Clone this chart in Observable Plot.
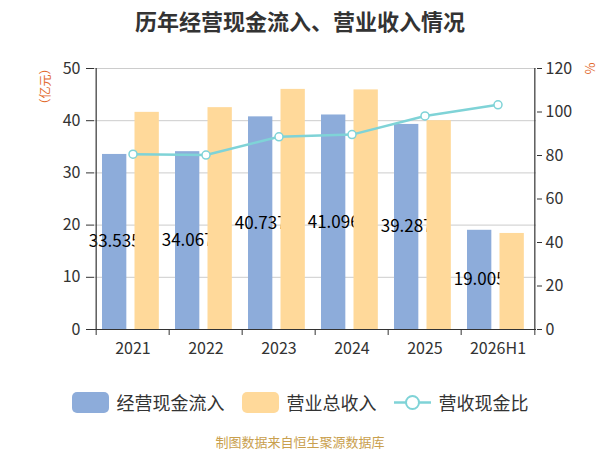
<!DOCTYPE html>
<html lang="zh">
<head>
<meta charset="UTF-8">
<title>历年经营现金流入、营业收入情况</title>
<script src="https://cdn.jsdelivr.net/npm/d3@7"></script>
<script src="https://cdn.jsdelivr.net/npm/@observablehq/plot@0.6"></script>
<style>
  body { margin: 0; background: #fff; font-family: "Noto Sans CJK SC", sans-serif; }
  #wrap { position: relative; width: 600px; height: 450px; }
  #title { position: absolute; top: 0; left: 0; width: 600px; height: 40px; line-height: 40px;
           text-align: center; font-size: 22px; font-weight: bold; color: #333; }
  #chart { position: absolute; top: 44px; left: 0; }
  #legend { position: absolute; top: 390px; left: 0; width: 600px; height: 24px;
            display: flex; justify-content: center; align-items: center; gap: 17px; }
  .item { display: flex; align-items: center; font-size: 18px; color: #333; }
  .sw { width: 37px; height: 21px; border-radius: 5px; margin-right: 8px; }
  .item svg { margin-right: 8px; }
  #source { position: absolute; top: 432px; left: 0; width: 600px; line-height: 20px;
            text-align: center; font-size: 13px; color: #c9a04e; }
</style>
</head>
<body>
<div id="wrap">
  <div id="title">历年经营现金流入、营业收入情况</div>
  <div id="chart"></div>
  <div id="legend"></div>
  <div id="source">制图数据来自恒生聚源数据库</div>
</div>
<script>
const years = ["2021", "2022", "2023", "2024", "2025", "2026H1"];
const cashIn = [33.535, 34.067, 40.737, 41.096, 39.287, 19.005];   // 经营现金流入 (亿元)
const revenue = [41.6, 42.5, 46.0, 45.9, 40.0, 18.4];             // 营业总收入 (亿元)
const ratio = [80.6, 80.2, 88.6, 89.6, 98.2, 103.3];              // 营收现金比 (%)
const leftTicks = [0, 10, 20, 30, 40, 50];
const rightTicks = [0, 20, 40, 60, 80, 100, 120];

const blue = "#8dacda", orange = "#ffd99a", teal = "#7fd3d7";

const W = 600, H = 321, ML = 94, MR = 64, MT = 24, MB = 36;
const bw = (W - ML - MR) / years.length;
const k = 50 / 120; // right axis -> left axis units

const rows = years.map((year, i) => ({year, cash: cashIn[i], rev: revenue[i], ratio: ratio[i]}));

const chart = Plot.plot({
  width: W,
  height: H,
  marginLeft: ML,
  marginRight: MR,
  marginTop: MT,
  marginBottom: MB,
  style: {fontFamily: "'Noto Sans CJK SC', sans-serif", fontSize: "16px", color: "#333", background: "white", overflow: "visible"},
  x: {type: "band", domain: years, padding: 0},
  y: {domain: [0, 50]},
  marks: [
    Plot.gridY(leftTicks.slice(1), {stroke: "#cccccc", strokeOpacity: 1}),
    Plot.barY(rows, {x: "year", y: "cash", fill: blue, insetLeft: 6, insetRight: bw - 31}),
    Plot.text(rows, {x: "year", y: d => d.cash / 2, text: d => d.cash.toFixed(3), dx: 18.5 - bw / 2, fill: "#000", fontSize: 17}),
    Plot.barY(rows, {x: "year", y: "rev", fill: orange, insetLeft: 38.5, insetRight: bw - 63.5}),
    Plot.line(rows, {x: "year", y: d => d.ratio * k, stroke: teal, strokeWidth: 2.5}),
    Plot.dot(rows, {x: "year", y: d => d.ratio * k, r: 4, fill: "white", stroke: teal, strokeWidth: 1.5}),
    // axis lines
    Plot.ruleY([0], {stroke: "#333", strokeWidth: 1.2}),
    Plot.ruleX([years[0]], {dx: -bw / 2, stroke: "#333", strokeWidth: 1.2}),
    Plot.ruleX([years[years.length - 1]], {dx: bw / 2, stroke: "#333", strokeWidth: 1.2}),
    // x axis: labels centred, ticks on band edges
    Plot.axisX({tickSize: 0, tickPadding: 13, label: null, fill: "#333"}),
    Plot.axisX(years, {tickSize: 6, tickFormat: () => "", dx: -bw / 2, label: null, stroke: "#333"}),
    Plot.axisX([years[years.length - 1]], {tickSize: 6, tickFormat: () => "", dx: bw / 2, label: null, stroke: "#333"}),
    // y axes
    Plot.axisY(leftTicks, {anchor: "left", tickSize: 8, tickPadding: 6, label: null, fill: "#333", stroke: "#333"}),
    Plot.axisY(rightTicks, {anchor: "right", y: d => d * k, tickFormat: d => d, tickSize: 5, tickPadding: 4, label: null, fill: "#333", stroke: "#333"}),
    Plot.text(["（亿元）"], {frameAnchor: "top-left", textAnchor: "middle", lineAnchor: "middle", dx: -48, dy: 18, rotate: -90, fill: "#e2692c", fontSize: 12}),
    Plot.text(["%"], {frameAnchor: "top-right", textAnchor: "middle", lineAnchor: "middle", dx: 54, dy: 0, rotate: -90, fill: "#e2692c", fontSize: 13})
  ]
});
document.getElementById("chart").append(chart);

// legend
const legend = document.getElementById("legend");
[["经营现金流入", blue], ["营业总收入", orange]].forEach(([name, c]) => {
  const it = document.createElement("div");
  it.className = "item";
  it.innerHTML = `<div class="sw" style="background:${c}"></div>${name}`;
  legend.append(it);
});
const lineItem = document.createElement("div");
lineItem.className = "item";
lineItem.innerHTML = `<svg width="37" height="21"><line x1="0" x2="37" y1="10.5" y2="10.5" stroke="${teal}" stroke-width="2.5"/>` +
  `<circle cx="18.5" cy="10.5" r="6.5" fill="white" stroke="${teal}" stroke-width="2"/></svg>营收现金比`;
legend.append(lineItem);
</script>
</body>
</html>
